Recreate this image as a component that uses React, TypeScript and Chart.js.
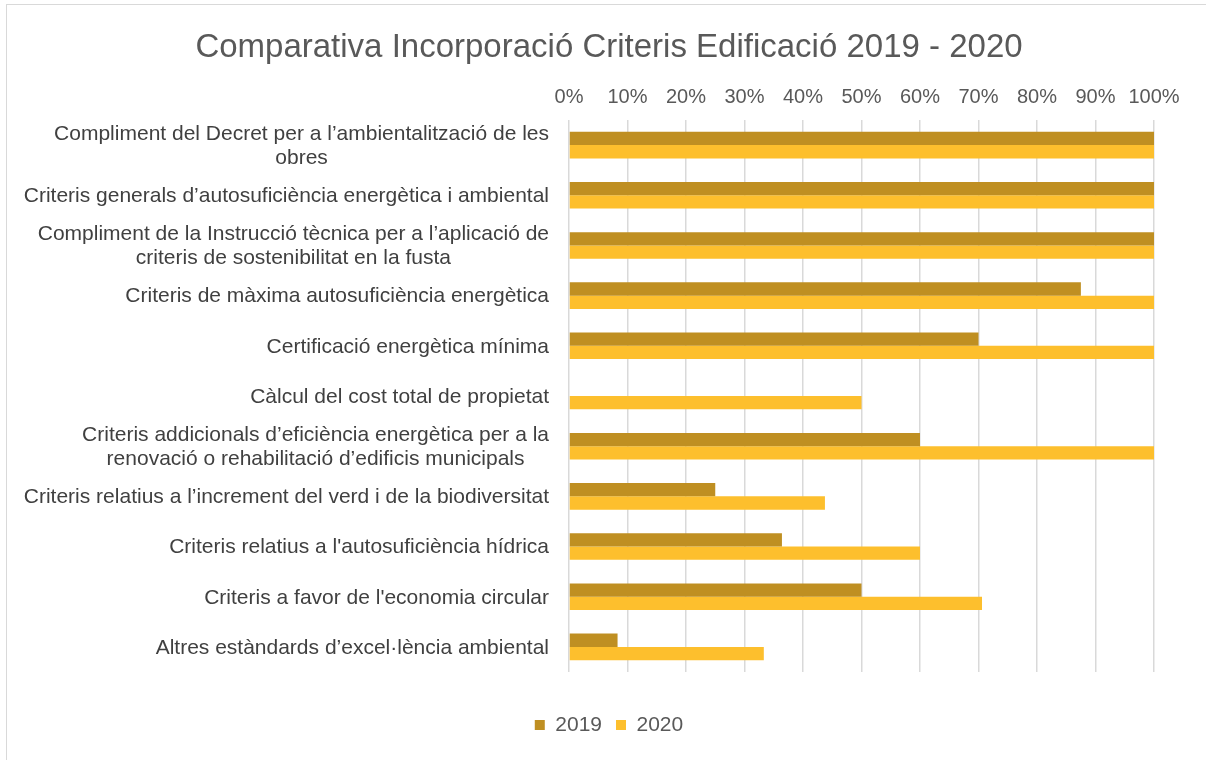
import React, { useEffect, useRef } from "react";
import { Chart, registerables } from "chart.js";

Chart.register(...registerables);

const titleText = "Comparativa Incorporació Criteris Edificació 2019 - 2020";

const categories: string[][] = [
  ["Compliment del Decret per a l’ambientalització de les", "obres"],
  ["Criteris generals d’autosuficiència energètica i ambiental"],
  ["Compliment de la Instrucció tècnica per a l’aplicació de", "criteris de sostenibilitat en la fusta"],
  ["Criteris de màxima autosuficiència energètica"],
  ["Certificació energètica mínima"],
  ["Càlcul del cost total de propietat"],
  ["Criteris addicionals d’eficiència energètica per a la", "renovació o rehabilitació d’edificis municipals"],
  ["Criteris relatius a l’increment del verd i de la biodiversitat"],
  ["Criteris relatius a l'autosuficiència hídrica"],
  ["Criteris a favor de l'economia circular"],
  ["Altres estàndards d’excel·lència ambiental"],
];

const seriesNames = ["2019", "2020"];
const values2019 = [100, 100, 100, 87.5, 70, 0, 60, 25, 36.4, 50, 8.3];
const values2020 = [100, 100, 100, 100, 100, 50, 100, 43.75, 60, 70.6, 33.3];
const seriesColors = ["#BF8F22", "#FDBF2D"];

const xMin = 0;
const xMax = 100;
const xStep = 10;

const FONT = "'Liberation Sans', Arial, Helvetica, sans-serif";

const TITLE_SIZE = 33;
const TITLE_PAD_TOP = 28;
const PLOT_TOP = 120;
const PAD_LEFT = 64;
const PAD_RIGHT = 52;
const PLOT_LEFT = 569;

const categoryLabelPlugin = {
  id: "categoryLabels",
  afterDraw(chart: any) {
    const yScale = chart.scales.y;
    const ctx = chart.ctx;
    ctx.save();
    ctx.font = `21px ${FONT}`;
    ctx.fillStyle = "#404040";
    ctx.textAlign = "center";
    ctx.textBaseline = "middle";
    const lineH = 24;
    const rightX = chart.chartArea.left - 20;
    categories.forEach((lines, i) => {
      const cy = yScale.getPixelForTick(i);
      const w = Math.max(...lines.map((l) => ctx.measureText(l).width));
      const cx = rightX - w / 2;
      const top = cy + 1 - ((lines.length - 1) * lineH) / 2;
      lines.forEach((l, j) => ctx.fillText(l, cx, top + j * lineH));
    });
    ctx.restore();
  },
};

export default function App() {
  const canvasRef = useRef<HTMLCanvasElement | null>(null);

  useEffect(() => {
    if (!canvasRef.current) return;
    const chart = new Chart(canvasRef.current, {
      type: "bar",
      data: {
        labels: categories.map((c) => c.join(" ")),
        datasets: [
          {
            label: seriesNames[0],
            data: values2019,
            backgroundColor: seriesColors[0],
            borderWidth: 0,
            categoryPercentage: 0.53,
            barPercentage: 1,
          },
          {
            label: seriesNames[1],
            data: values2020,
            backgroundColor: seriesColors[1],
            borderWidth: 0,
            categoryPercentage: 0.53,
            barPercentage: 1,
          },
        ],
      },
      options: {
        indexAxis: "y",
        responsive: false,
        animation: false,
        layout: {
          padding: { top: 0, left: PAD_LEFT, right: PAD_RIGHT, bottom: 14.5 },
        },
        scales: {
          x: {
            position: "top",
            min: xMin,
            max: xMax,
            ticks: {
              stepSize: xStep,
              callback: (v: any) => `${v}%`,
              font: { family: FONT, size: 20 },
              color: "#595959",
              padding: 11,
            },
            grid: { color: "#d9d9d9", lineWidth: 1.5, drawTicks: false },
            border: { display: false },
            afterFit: (scale: any) => {
              scale.height = PLOT_TOP - (TITLE_PAD_TOP + TITLE_SIZE * 1.2);
            },
          },
          y: {
            ticks: { display: false },
            grid: { display: false },
            border: { display: false },
            afterFit: (scale: any) => {
              scale.width = PLOT_LEFT - PAD_LEFT;
            },
          },
        },
        plugins: {
          title: {
            display: true,
            text: titleText,
            color: "#595959",
            font: { family: FONT, size: TITLE_SIZE, weight: "normal" },
            padding: { top: TITLE_PAD_TOP, bottom: 0 },
          },
          legend: {
            position: "bottom",
            title: {
              display: true,
              text: "",
              font: { family: FONT, size: 10 },
              padding: { top: 16.5, bottom: 0 },
            },
            labels: {
              font: { family: FONT, size: 21 },
              color: "#595959",
              boxWidth: 10,
              boxHeight: 10,
              padding: 14,
            },
          },
          tooltip: { enabled: false },
        },
      },
      plugins: [categoryLabelPlugin],
    });
    return () => chart.destroy();
  }, []);

  return (
    <div style={{ position: "absolute", left: 0, top: 0, width: 1206, height: 760, background: "#fff" }}>
      <canvas ref={canvasRef} width={1206} height={760} style={{ display: "block", width: 1206, height: 760 }} />
      <div
        style={{
          position: "absolute",
          left: 6,
          top: 4,
          width: 1200,
          height: 756,
          borderLeft: "1px solid #d9d9d9",
          borderTop: "1px solid #d9d9d9",
          pointerEvents: "none",
        }}
      />
    </div>
  );
}
